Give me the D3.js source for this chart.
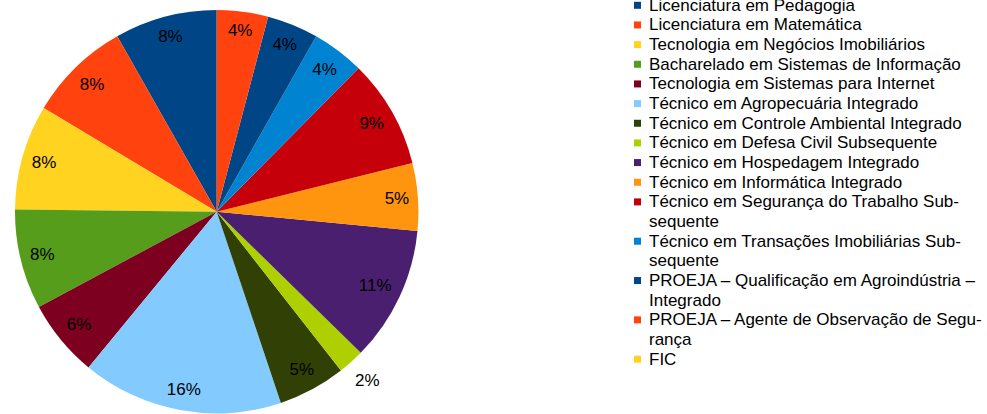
<!DOCTYPE html>
<html>
<head>
<meta charset="utf-8">
<script src="https://cdn.jsdelivr.net/npm/d3@7"></script>
<style>
  body { margin: 0; background: #fff; }
  svg { display: block; font-family: "Liberation Sans", Arial, sans-serif; }
</style>
</head>
<body>
<div class="chart"></div>
<script>
// chart data (share of each course, in %)
var courses = [
    "Licenciatura em Pedagogia",
    "Licenciatura em Matemática",
    "Tecnologia em Negócios Imobiliários",
    "Bacharelado em Sistemas de Informação",
    "Tecnologia em Sistemas para Internet",
    "Técnico em Agropecuária Integrado",
    "Técnico em Controle Ambiental Integrado",
    "Técnico em Defesa Civil Subsequente",
    "Técnico em Hospedagem Integrado",
    "Técnico em Informática Integrado",
    "Técnico em Segurança do Trabalho Subsequente",
    "Técnico em Transações Imobiliárias Subsequente",
    "PROEJA – Qualificação em Agroindústria – Integrado",
    "PROEJA – Agente de Observação de Segurança",
    "FIC"
];
var shares = [8.2, 8.2, 8.4, 8.0, 6.2, 16.1, 5.4, 2.1, 10.8, 5.4, 8.7, 4.2, 4.1, 4.1, 0];

// legend text as it wraps in the picture
var legendLines = [
    ["Licenciatura em Pedagogia"],
    ["Licenciatura em Matemática"],
    ["Tecnologia em Negócios Imobiliários"],
    ["Bacharelado em Sistemas de Informação"],
    ["Tecnologia em Sistemas para Internet"],
    ["Técnico em Agropecuária Integrado"],
    ["Técnico em Controle Ambiental Integrado"],
    ["Técnico em Defesa Civil Subsequente"],
    ["Técnico em Hospedagem Integrado"],
    ["Técnico em Informática Integrado"],
    ["Técnico em Segurança do Trabalho Sub-", "sequente"],
    ["Técnico em Transações Imobiliárias Sub-", "sequente"],
    ["PROEJA – Qualificação em Agroindústria –", "Integrado"],
    ["PROEJA – Agente de Observação de Segu-", "rança"],
    ["FIC"]
];

var palette = ["#004586", "#ff420e", "#ffd320", "#579d1c", "#7e0021", "#83caff",
    "#314004", "#aecf00", "#4b1f6f", "#ff950e", "#c5000b", "#0084d1",
    "#004586", "#ff420e", "#ffd320"];

var svgWidth = 987;
var svgHeight = 414;

var cx = 216.7, cy = 211.7, radius = 201.7;

var svg = d3.select(".chart")
    .append("svg")
    .attr("width", svgWidth)
    .attr("height", svgHeight);

var color = d3.scaleOrdinal()
    .domain(courses)
    .range(palette);

// slices run counter-clockwise from 12 o'clock
var pie = d3.pie()
    .sort(null)
    .value(d => d.value)
    .startAngle(0)
    .endAngle(-2 * Math.PI);

var data = courses.map((c, i) => ({ name: c, value: shares[i] }));
var total = d3.sum(shares);
var arcs = pie(data);

var arc = d3.arc().innerRadius(0).outerRadius(radius);

var pieGroup = svg.append("g")
    .attr("transform", `translate(${cx}, ${cy})`);

pieGroup.selectAll("path")
    .data(arcs)
    .enter()
    .append("path")
    .attr("d", arc)
    .attr("fill", d => color(d.data.name));

// percent labels, inside the slice when it is wide enough
var labels = pieGroup.selectAll("text")
    .data(arcs.filter(d => d.value > 0))
    .enter()
    .append("text")
    .attr("text-anchor", "middle")
    .attr("dominant-baseline", "central")
    .style("font-size", "17px")
    .attr("fill", "#000")
    .text(d => Math.round(d.value / total * 100) + "%");

labels.each(function(d) {
    var box = this.getBBox();
    var mid = (d.startAngle + d.endAngle) / 2;
    var s = Math.sin(mid), c = -Math.cos(mid);
    var proj = Math.abs(s) * box.width / 2 + Math.abs(c) * box.height / 2;
    var span = Math.abs(d.endAngle - d.startAngle);
    var dist = span < 0.2 ? radius + 9 + proj : radius - 8 - proj;
    d3.select(this)
        .attr("x", s * dist)
        .attr("y", c * dist);
});

// legend
var legend = svg.append("g")
    .attr("transform", "translate(634, 5.3)");

var lineStep = 19.66;
var row = 0;
legendLines.forEach(function(lines, i) {
    var g = legend.append("g")
        .attr("transform", `translate(0, ${row * lineStep})`);
    g.append("rect")
        .attr("x", 0)
        .attr("y", -3.5)
        .attr("width", 7)
        .attr("height", 7)
        .attr("fill", palette[i]);
    lines.forEach(function(t, j) {
        g.append("text")
            .attr("x", 15)
            .attr("y", j * lineStep)
            .attr("dominant-baseline", "central")
            .style("font-size", "17px")
            .attr("fill", "#000")
            .text(t);
    });
    row += lines.length;
});
</script>
</body>
</html>
